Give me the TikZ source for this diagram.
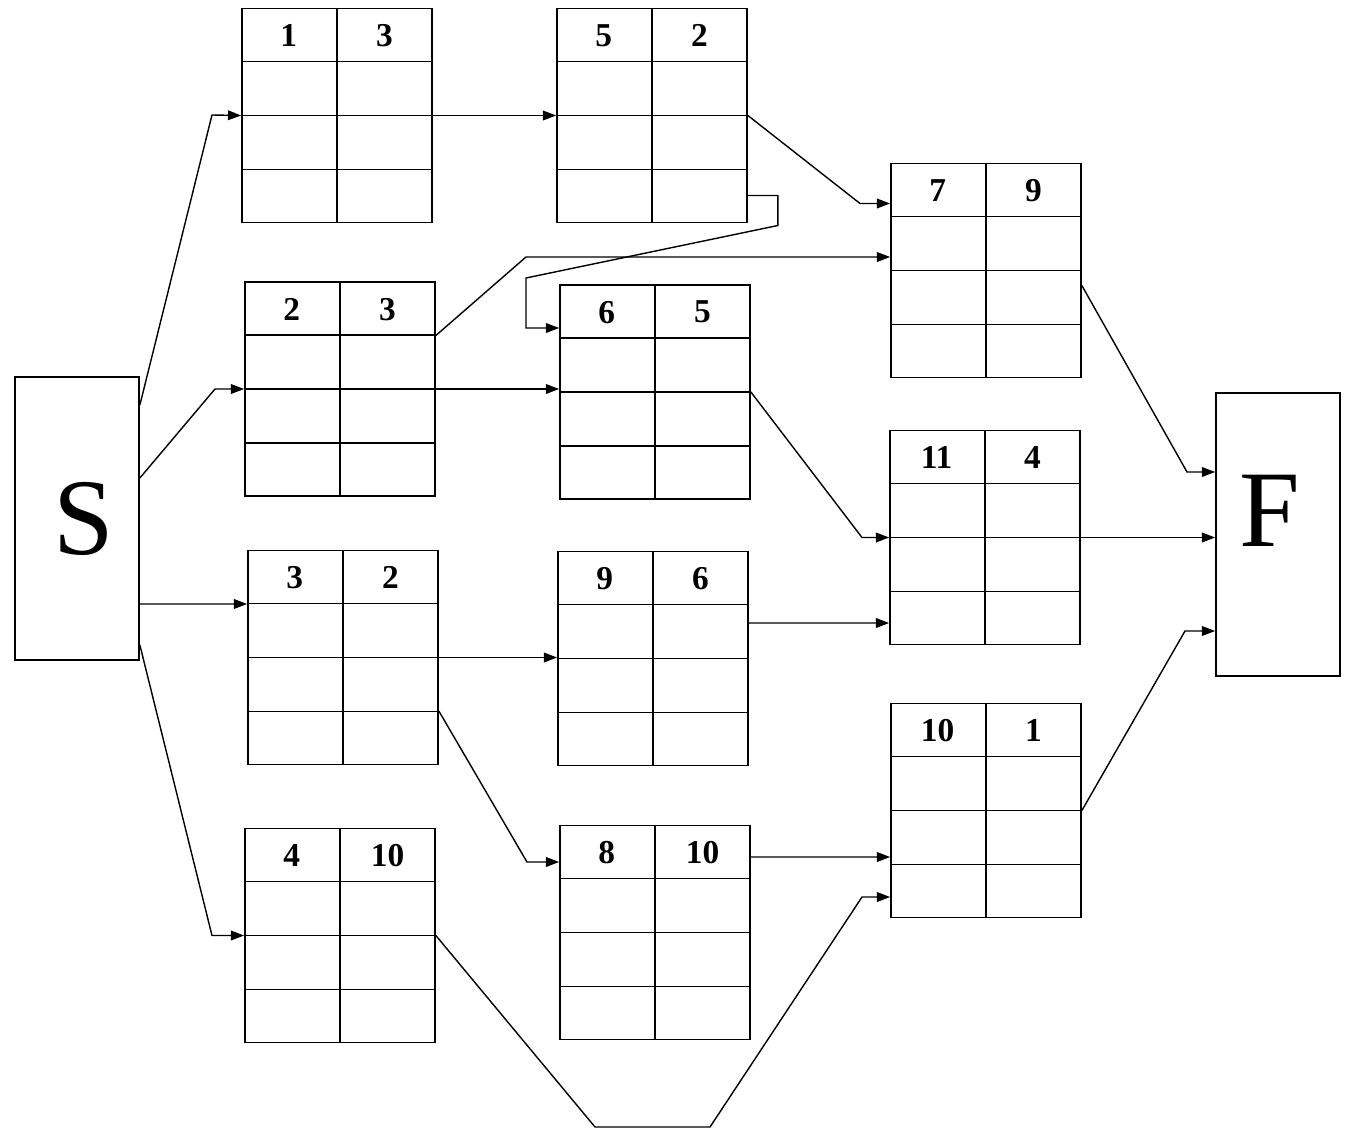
\documentclass[tikz,border=0pt]{standalone}
\usepackage{fontspec}
\setmainfont{Liberation Serif}
\usetikzlibrary{arrows.meta,positioning,calc}

\begin{document}
\begin{tikzpicture}[x=0.02cm,y=-0.02cm,
  taskbox/.style={draw,line width=1pt,minimum width=3.8cm,minimum height=4.28cm,inner sep=0pt},
  endbox/.style={draw,line width=1pt,minimum width=2.48cm,minimum height=5.66cm,inner sep=0pt},
  endtext/.style={inner sep=0pt,font=\fontsize{62}{62}\selectfont},
  num/.style={inner sep=0pt,font=\bfseries\fontsize{19}{19}\selectfont},
  conn/.style={line width=0.8pt,-{Triangle[length=7.5pt,width=5.5pt]}}]
\useasboundingbox (0,0) rectangle (1346,1129);
% start and finish
\node[endbox,label={[endtext,xshift=0.14cm]center:S}] (S) at (77,518.5) {};
\node[endbox,label={[endtext,xshift=-0.16cm,yshift=0.48cm]center:F}] (F) at (1278,534.5) {};
% task boxes: name/x/y/first/second
\foreach \n/\x/\y/\a/\b in {b1/337/115.5/1/3, b5/652/115.5/5/2, b7/986/270.5/7/9,
    b2/340/389/2/3, b6/655/392/6/5, b11/985/537.5/11/4, b3/343/657.5/3/2,
    b9/653/658.5/9/6, b10/986/810.5/10/1, b4/340/935.5/4/10, b8/655/932.5/8/10}{
  \node[taskbox] (\n) at (\x,\y) {};
  \draw[line width=1pt] (\n.north) -- (\n.south);
  \foreach \k in {0.25,0.5,0.75}
    \draw[line width=1pt] ($(\n.north west)!\k!(\n.south west)$) -- ($(\n.north east)!\k!(\n.south east)$);
  \node[num] at ($(\n.north west)+(47.5,28)$) {\a};
  \node[num] at ($(\n.north)+(47.5,28)$) {\b};
}
% connectors
\draw[conn] ($(S.east)+(0,-113.5)$) -- (212,115) -- (b1.west);
\draw[conn] ($(S.east)+(0,-40.5)$) -- (215,389) -- (b2.west);
\draw[conn] ($(S.east)+(0,85.5)$) -- ($(b3.west)+(0,-53.5)$);
\draw[conn] ($(S.east)+(0,126.5)$) -- (212,935.5) -- (b4.west);
\draw[conn] (b1.east) -- (b5.west);
\draw[conn] (b5.east) -- (860,203.5) -- ($(b7.west)+(0,-67)$);
\draw[conn] ($(b5.east)+(0,80)$) -- ++(30,0) -- ++(0,30) -- (526,278) -- (526,328) -- ($(b6.west)+(0,-64)$);
\draw[conn] ($(b2.east)+(0,-53.5)$) -- (526,257) -- ($(b7.west)+(0,-13.5)$);
\draw[conn] (b2.east) -- (b6.west |- b2.east);
\draw[conn] (b6.east) -- (862,537.5) -- (b11.west);
\draw[conn] ($(b7.east)+(0,15)$) -- (1187,472) -- ($(F.west)+(0,-62.5)$);
\draw[conn] (b11.east) -- (F.west |- b11.east);
\draw[conn] (b10.east) -- (1185,631) -- ($(F.west)+(0,96.5)$);
\draw[conn] ($(b9.east)+(0,-35.5)$) -- ($(b11.west)+(0,85.5)$);
\draw[conn] (b3.east) -- (b9.west |- b3.east);
\draw[conn] ($(b3.east)+(0,53.5)$) -- (527,862) -- ($(b8.west)+(0,-70.5)$);
\draw[conn] ($(b8.east)+(0,-75.5)$) -- ($(b10.west)+(0,46.5)$);
\draw[conn] (b4.east) -- (595,1127) -- (710,1127) -- (862,897) -- ($(b10.west)+(0,86.5)$);
\end{tikzpicture}
\end{document}
